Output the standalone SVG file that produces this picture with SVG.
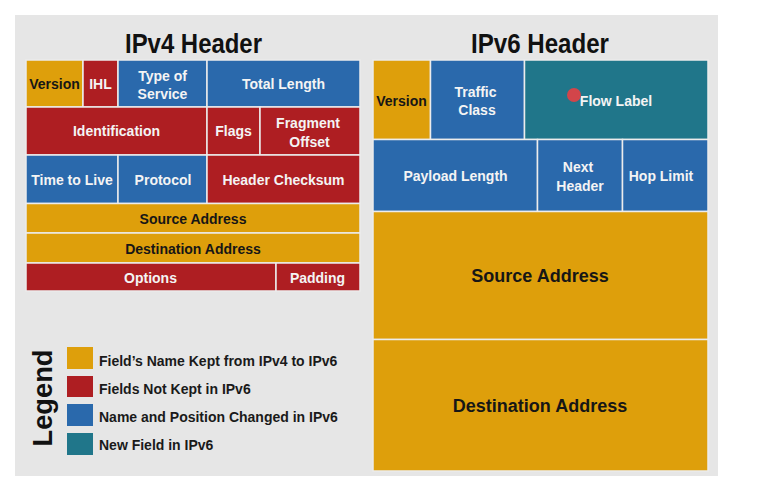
<svg xmlns="http://www.w3.org/2000/svg" width="773" height="485" viewBox="0 0 773 485">
<style>
.c{stroke:#ececec;stroke-width:1.5}
.g{fill:#DE9F0B}
.r{fill:#AE1E22}
.b{fill:#2A69AC}
.t{fill:#20768A}
text{font-family:"Liberation Sans",Arial,sans-serif;font-weight:bold;text-anchor:middle}
.w{fill:#f4f4f4;font-size:14px}
.k{fill:#161616;font-size:14px}
.K{fill:#161616;font-size:18px}
.h{fill:#111;font-size:28px}
.l{fill:#1a1a1a;font-size:14px;text-anchor:start}
</style>
<rect x="0" y="0" width="773" height="485" fill="#ffffff"/>
<rect x="15" y="15" width="703" height="461" fill="#E6E6E6"/>
<text class="h" x="193.5" y="53" textLength="137" lengthAdjust="spacingAndGlyphs">IPv4 Header</text>
<text class="h" x="540" y="53" textLength="138" lengthAdjust="spacingAndGlyphs">IPv6 Header</text>

<g id="v4-version"><rect class="c g" x="26" y="60" width="57" height="47"/><text class="k" x="54.5" y="88.5">Version</text></g>
<g id="v4-ihl"><rect class="c r" x="83" y="60" width="35" height="47"/><text class="w" x="100.5" y="88.5">IHL</text></g>
<g id="v4-tos"><rect class="c b" x="118" y="60" width="89" height="47"/><text class="w" x="162.5" y="80.5">Type of</text><text class="w" x="162.5" y="98.5">Service</text></g>
<g id="v4-totallength"><rect class="c b" x="207" y="60" width="153" height="47"/><text class="w" x="283.5" y="88.5">Total Length</text></g>

<g id="v4-identification"><rect class="c r" x="26" y="107" width="181" height="48"/><text class="w" x="116.5" y="136">Identification</text></g>
<g id="v4-flags"><rect class="c r" x="207" y="107" width="53" height="48"/><text class="w" x="233.5" y="136">Flags</text></g>
<g id="v4-fragoffset"><rect class="c r" x="260" y="107" width="100" height="48"/><text class="w" x="308" y="128">Fragment</text><text class="w" x="309.5" y="146.5">Offset</text></g>

<g id="v4-ttl"><rect class="c b" x="26" y="155" width="92" height="48.5"/><text class="w" x="72" y="184.5">Time to Live</text></g>
<g id="v4-protocol"><rect class="c b" x="118" y="155" width="89" height="48.5"/><text class="w" x="163" y="184.5">Protocol</text></g>
<g id="v4-checksum"><rect class="c r" x="207" y="155" width="153" height="48.5"/><text class="w" x="283.5" y="184.5">Header Checksum</text></g>

<g id="v4-source"><rect class="c g" x="26" y="203.5" width="334" height="29.5"/><text class="k" x="193" y="224">Source Address</text></g>
<g id="v4-dest"><rect class="c g" x="26" y="233" width="334" height="30"/><text class="k" x="193" y="254">Destination Address</text></g>
<g id="v4-options"><rect class="c r" x="26" y="263" width="250" height="28"/><text class="w" x="150.5" y="282.5">Options</text></g>
<g id="v4-padding"><rect class="c r" x="276" y="263" width="84" height="28"/><text class="w" x="317.5" y="282.5">Padding</text></g>

<g id="v6-version"><rect class="c g" x="373" y="60" width="57.5" height="79.5"/><text class="k" x="401.5" y="105.5">Version</text></g>
<g id="v6-trafficclass"><rect class="c b" x="430.5" y="60" width="94" height="79.5"/><text class="w" x="475.5" y="96.5">Traffic</text><text class="w" x="477" y="115">Class</text></g>
<g id="v6-flowlabel"><rect class="c t" x="524.5" y="60" width="183.5" height="79.5"/><text class="w" x="616" y="105.5">Flow Label</text><circle cx="574" cy="95" r="7" fill="#D2454A"/></g>
<g id="v6-payload"><rect class="c b" x="373" y="139.5" width="164.5" height="72"/><text class="w" x="455.5" y="181">Payload Length</text></g>
<g id="v6-nextheader"><rect class="c b" x="537.5" y="139.5" width="85" height="72"/><text class="w" x="578" y="171.5">Next</text><text class="w" x="580" y="190.5">Header</text></g>
<g id="v6-hoplimit"><rect class="c b" x="622.5" y="139.5" width="85.5" height="72"/><text class="w" x="661" y="181">Hop Limit</text></g>
<g id="v6-source"><rect class="c g" x="373" y="211.5" width="335" height="128"/><text class="K" x="540" y="282">Source Address</text></g>
<g id="v6-dest"><rect class="c g" x="373" y="339.5" width="335" height="131.5"/><text class="K" x="540" y="412">Destination Address</text></g>

<g id="legend">
<text x="52" y="398" transform="rotate(-90 52 398)" style="font-size:27px;fill:#111" textLength="97" lengthAdjust="spacingAndGlyphs">Legend</text>
<rect class="g" x="67" y="347" width="26" height="22"/><text class="l" x="99" y="366">Field’s Name Kept from IPv4 to IPv6</text>
<rect class="r" x="67" y="376" width="26" height="21"/><text class="l" x="99" y="394">Fields Not Kept in IPv6</text>
<rect class="b" x="67" y="404" width="26" height="22"/><text class="l" x="99" y="422">Name and Position Changed in IPv6</text>
<rect class="t" x="67" y="433" width="26" height="22"/><text class="l" x="99" y="450">New Field in IPv6</text>
</g>
</svg>
